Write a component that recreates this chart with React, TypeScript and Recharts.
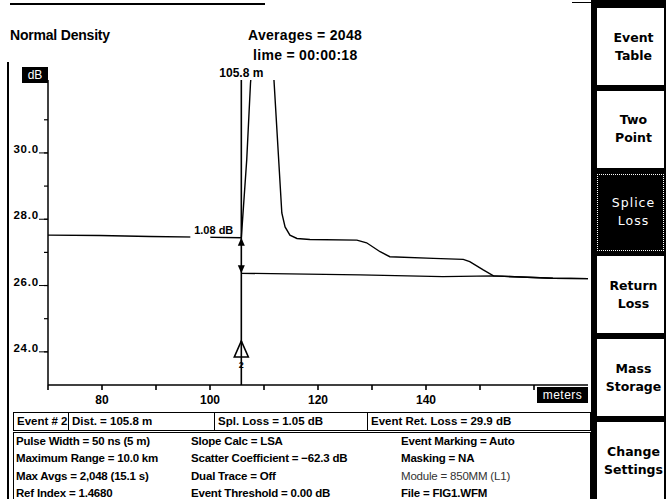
import { LineChart, Line, XAxis, YAxis, ReferenceLine, ReferenceDot } from "recharts";

// OTDR trace (distance in m, level in dB)
const TRACE_DIST = [70, 79.6, 88.9, 98.1, 105.8, 106.8, 107.5, 109.7, 111.7, 113.3, 113.9, 114.8, 116.1, 118.5, 127.2, 129.0, 131.5, 133.3, 141.4, 146.9, 148.1, 150.6, 152.5, 163.5, 170];
const TRACE_DB = [27.52, 27.51, 27.48, 27.46, 27.44, 29.79, 32.1, 36.5, 32.6, 28.19, 27.77, 27.52, 27.42, 27.39, 27.37, 27.29, 27.02, 26.87, 26.82, 26.79, 26.72, 26.47, 26.29, 26.22, 26.21];

// LSA fit after the event
const FIT_DIST = [105.8, 127.8, 143.1, 152.5, 163.5, 170];
const FIT_DB = [26.37, 26.32, 26.27, 26.29, 26.22, 26.21];

const X_TICKS = [70, 80, 90, 100, 110, 120, 130, 140, 150, 160];
const X_LABELS = [80, 100, 120, 140];
const Y_TICKS = [24, 25, 26, 27, 28, 29, 30, 31];
const Y_LABELS = [24, 26, 28, 30];

const EVENT_DIST = 105.8;
const LEVEL_BEFORE = 27.44;
const LEVEL_AFTER = 26.37;
const SPLICE_TEXT = "1.08 dB";
const EVENT_NO = "2";

const BUTTONS = [
  ["Event", "Table"],
  ["Two", "Point"],
  ["Splice", "Loss"],
  ["Return", "Loss"],
  ["Mass", "Storage"],
  ["Change", "Settings"],
];
const ACTIVE_BUTTON = 2;

const EVENT_CELLS = ["Event # 2", "Dist. = 105.8 m", "Spl. Loss = 1.05 dB", "Event Ret. Loss = 29.9 dB"];
const EVENT_CELL_X = [0, 54, 200, 353];

const INFO_COLS = [
  ["Pulse Width = 50 ns (5 m)", "Maximum Range = 10.0 km", "Max Avgs = 2,048 (15.1 s)", "Ref Index = 1.4680"],
  ["Slope Calc = LSA", "Scatter Coefficient = \u221262.3 dB", "Dual Trace = Off", "Event Threshold = 0.00 dB"],
  ["Event Marking = Auto", "Masking = NA", "Module = 850MM (L1)", "File = FIG1.WFM"],
];
const INFO_COL_X = [2, 177, 387];

const trace = TRACE_DIST.map((d, i) => ({ dist: d, db: TRACE_DB[i] }));
const fit = FIT_DIST.map((d, i) => ({ dist: d, db: FIT_DB[i] }));

const SANS = "'Liberation Sans', Arial, sans-serif";

function XTick({ x, y, payload }: any) {
  const v = payload.value;
  if (!X_LABELS.includes(v)) return null;
  return (
    <text x={x} y={y + 14} textAnchor="middle" fontFamily={SANS} fontWeight="bold" fontSize={12} fill="#000">
      {v}
    </text>
  );
}

function YTick({ x, y, payload }: any) {
  const v = payload.value;
  if (!Y_LABELS.includes(v)) return null;
  return (
    <g>
      <text x={x - 5} y={y} textAnchor="end" fontFamily={SANS} fontWeight="bold" fontSize={11.5} letterSpacing={0.8} fill="#000">
        {v.toFixed(1)}
      </text>
      <line x1={x - 5} x2={x + 4} y1={y} y2={y} stroke="#000" strokeWidth={1} />
    </g>
  );
}

function MarkerShape({ x1, y1, y2 }: any) {
  const top = Math.min(y1, y2);
  const bot = Math.max(y1, y2);
  return (
    <g>
      <line x1={x1} x2={x1} y1={top} y2={bot} stroke="#000" strokeWidth={1.6} />
      <polygon
        points={`${x1 - 7},${bot - 28} ${x1 + 7},${bot - 28} ${x1},${bot - 44}`}
        fill="#fff"
        stroke="#000"
        strokeWidth={1.6}
      />
      <line x1={x1} x2={x1} y1={bot - 44} y2={bot - 28} stroke="#000" strokeWidth={1.6} />
      <text x={x1} y={bot - 17} textAnchor="middle" fontFamily={SANS} fontWeight="bold" fontSize={9} fill="#000">
        {EVENT_NO}
      </text>
    </g>
  );
}

function MarkerLabel({ viewBox }: any) {
  return (
    <text x={viewBox.x} y={viewBox.y - 3} textAnchor="middle" fontFamily={SANS} fontWeight="bold" fontSize={12} fill="#000">
      {`${EVENT_DIST} m`}
    </text>
  );
}

function UpArrow({ cx, cy }: any) {
  return (
    <g>
      <rect x={cx - 51} y={cy - 4} width={20} height={7} fill="#fff" />
      <text x={cx - 8} y={cy - 4} textAnchor="end" fontFamily={SANS} fontWeight="bold" fontSize={11} fill="#000">
        {SPLICE_TEXT}
      </text>
      <polygon points={`${cx - 3.5},${cy + 8} ${cx + 3.5},${cy + 8} ${cx},${cy}`} fill="#000" />
    </g>
  );
}

function DownArrow({ cx, cy }: any) {
  return <polygon points={`${cx - 3.5},${cy - 8} ${cx + 3.5},${cy - 8} ${cx},${cy}`} fill="#000" />;
}

export default function App() {
  const txt: React.CSSProperties = {
    position: "absolute",
    fontFamily: SANS,
    fontWeight: "bold",
    fontSize: 12,
    whiteSpace: "nowrap",
    lineHeight: "14px",
  };
  return (
    <div style={{ position: "absolute", left: 0, top: 0, width: 666, height: 499, background: "#fff", overflow: "hidden" }}>
      <div style={{ position: "absolute", left: 0, top: 0 }}>
        <LineChart width={666} height={499} margin={{ top: 80, right: 78, bottom: 0, left: 0 }}>
          <XAxis
            dataKey="dist"
            type="number"
            domain={[70, 170]}
            ticks={X_TICKS}
            height={114}
            tickSize={5}
            tickMargin={0}
            tickLine={{ stroke: "#000", strokeWidth: 1.6 }}
            axisLine={{ stroke: "#000", strokeWidth: 1.5 }}
            tick={<XTick />}
            interval={0}
          />
          <YAxis
            type="number"
            domain={[23, 32.2]}
            allowDataOverflow
            ticks={Y_TICKS}
            width={48}
            tickSize={4}
            tickMargin={0}
            tickLine={{ stroke: "#000", strokeWidth: 1.2 }}
            axisLine={{ stroke: "#000", strokeWidth: 1.5 }}
            tick={<YTick />}
            interval={0}
          />
          <Line data={fit} dataKey="db" type="linear" dot={false} stroke="#000" strokeWidth={1.3} isAnimationActive={false} />
          <Line data={trace} dataKey="db" type="linear" dot={false} stroke="#000" strokeWidth={1.4} isAnimationActive={false} />
          <ReferenceLine x={EVENT_DIST} shape={<MarkerShape />} label={<MarkerLabel />} />
          <ReferenceDot x={EVENT_DIST} y={LEVEL_BEFORE} shape={<UpArrow />} />
          <ReferenceDot x={EVENT_DIST} y={LEVEL_AFTER} shape={<DownArrow />} />
        </LineChart>
      </div>

      {/* frame lines */}
      <div style={{ position: "absolute", left: 10, top: 3, width: 255, height: 1.5, background: "#000" }} />
      <div style={{ position: "absolute", left: 572, top: 2, width: 22, height: 1, background: "#000" }} />
      <div style={{ position: "absolute", left: 7, top: 62, width: 1.5, height: 437, background: "#000" }} />

      {/* header */}
      <div style={{ ...txt, left: 10, top: 28, fontSize: 14, letterSpacing: -0.2 }}>Normal Density</div>
      <div style={{ ...txt, left: 248, top: 28, fontSize: 14, letterSpacing: 0.3 }}>Averages = 2048</div>
      <div style={{ ...txt, left: 253, top: 48, fontSize: 14, letterSpacing: 0.3 }}>lime = 00:00:18</div>

      {/* dB badge */}
      <div
        style={{
          position: "absolute",
          left: 22,
          top: 67,
          width: 26,
          height: 16,
          background: "#000",
          color: "#fff",
          fontFamily: SANS,
          fontSize: 12,
          lineHeight: "16px",
          textAlign: "center",
        }}
      >
        dB
      </div>

      {/* meters badge */}
      <div
        style={{
          position: "absolute",
          left: 537,
          top: 387,
          width: 51,
          height: 16,
          background: "#000",
          color: "#fff",
          fontFamily: SANS,
          fontSize: 12,
          lineHeight: "16px",
          textAlign: "center",
          letterSpacing: 0.5,
        }}
      >
        meters
      </div>

      {/* event row */}
      <div style={{ position: "absolute", left: 13, top: 412, width: 576, height: 17, border: "1px solid #000" }}>
        {EVENT_CELLS.map((c, i) => (
          <div
            key={c}
            style={{
              ...txt,
              left: EVENT_CELL_X[i],
              top: 0,
              height: 17,
              lineHeight: "17px",
              paddingLeft: 3,
              fontSize: 11.5,
              borderLeft: i > 0 ? "1px solid #000" : "none",
            }}
          >
            {c}
          </div>
        ))}
      </div>

      {/* settings box */}
      <div style={{ position: "absolute", left: 13, top: 432, width: 576, height: 80, border: "1px solid #000" }}>
        {INFO_COLS.map((col, ci) =>
          col.map((t, ri) => (
            <div
              key={t}
              style={{
                ...txt,
                left: INFO_COL_X[ci],
                top: 1 + ri * 17.3,
                fontSize: 11.5,
                letterSpacing: -0.2,
                fontWeight: t.startsWith("Module") ? "normal" : "bold",
                color: t.startsWith("Module") ? "#333" : "#000",
              }}
            >
              {t}
            </div>
          ))
        )}
      </div>

      {/* soft keys */}
      <div style={{ position: "absolute", left: 591, top: 0, width: 75, height: 499, background: "#000" }}>
        {BUTTONS.map((b, i) => {
          const active = i === ACTIVE_BUTTON;
          return (
            <div
              key={b.join(" ")}
              style={{
                position: "absolute",
                left: 6,
                right: 2,
                top: 8 + i * 82.8,
                height: 77,
                background: active ? "#000" : "#fff",
                border: active ? "1px dotted #fff" : "none",
                boxSizing: "border-box",
                display: "flex",
                flexDirection: "column",
                justifyContent: "center",
                alignItems: "center",
                paddingLeft: 6,
                fontFamily: "'DejaVu Sans', sans-serif",
                fontWeight: active ? "normal" : "bold",
                fontSize: 12.5,
                lineHeight: "18px",
                letterSpacing: active ? 1 : 0,
                color: active ? "#fff" : "#000",
                whiteSpace: "nowrap",
              }}
            >
              <div>{b[0]}</div>
              <div>{b[1]}</div>
            </div>
          );
        })}
      </div>
    </div>
  );
}
